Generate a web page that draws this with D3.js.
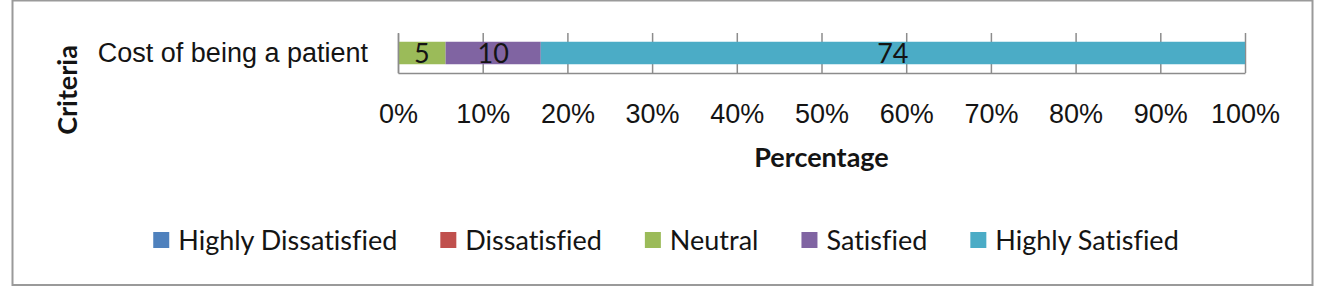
<!DOCTYPE html>
<html>
<head>
<meta charset="utf-8">
<script src="https://cdn.jsdelivr.net/npm/d3@7"></script>
<style>
  body { margin: 0; background: #fff; }
  svg { display: block; font-family: Lato, "Open Sans", sans-serif; font-variant-ligatures: none; }
</style>
</head>
<body>
<div id="chart"></div>
<script>
// Data
const categories = ["Cost of being a patient"];
const seriesNames = ["Highly Dissatisfied", "Dissatisfied", "Neutral", "Satisfied", "Highly Satisfied"];
const seriesValues = [0, 0, 5, 10, 74];
const tickValues = [0, 0.1, 0.2, 0.3, 0.4, 0.5, 0.6, 0.7, 0.8, 0.9, 1];

/* Set the dimensions of the graph */
const width = 1326, height = 287;
const plot = {left: 398, right: 1245, top: 33, bottom: 73};
const fontSize = 27;
const textColor = "#141414";

const svg = d3.select("#chart")
    .append("svg")
    .attr("width", width)
    .attr("height", height);

// outer chart frame
svg.append("rect")
    .attr("x", 12.5).attr("y", 0.5)
    .attr("width", 1300).attr("height", 284.5)
    .attr("fill", "#fff")
    .attr("stroke", "#9a9a9a")
    .attr("stroke-width", 2);

// Excel 2007 palette
const color = d3.scaleOrdinal()
    .domain(seriesNames)
    .range(["#4f81bd", "#c0504d", "#9bbb59", "#8064a2", "#4bacc6"]);

// one row per category, stacked to 100%
const rows = categories.map(c => {
    const row = {category: c};
    seriesNames.forEach((s, i) => row[s] = seriesValues[i]);
    return row;
});
const stacked = d3.stack()
    .keys(seriesNames)
    .offset(d3.stackOffsetExpand)(rows);

const xScale = d3.scaleLinear()
    .domain([0, 1])
    .range([plot.left, plot.right]);
const yScale = d3.scaleBand()
    .domain(categories)
    .range([plot.top, plot.bottom])
    .padding(0.28);

/* x axis with gridlines */
const xGroup = svg.append("g")
    .attr("transform", `translate(0,${plot.bottom})`)
    .call(d3.axisBottom(xScale)
        .tickValues(tickValues)
        .tickFormat(d3.format(".0%"))
        .tickSize(-(plot.bottom - plot.top))
        .tickSizeOuter(0)
        .tickPadding(31));
xGroup.selectAll("line").attr("stroke", "#8c8c8c").attr("stroke-width", 1.5);
xGroup.select(".domain").attr("stroke", "#8c8c8c").attr("stroke-width", 1.5);
xGroup.selectAll("text")
    .style("font-size", fontSize + "px")
    .attr("fill", textColor);

/* bars */
svg.append("g")
    .selectAll("g")
    .data(stacked)
    .join("g")
    .attr("fill", d => color(d.key))
    .selectAll("rect")
    .data(d => d)
    .join("rect")
    .attr("x", d => xScale(d[0]))
    .attr("y", d => yScale(d.data.category))
    .attr("width", d => xScale(d[1]) - xScale(d[0]))
    .attr("height", yScale.bandwidth());

/* y axis */
const yGroup = svg.append("g")
    .attr("transform", `translate(${plot.left},0)`)
    .call(d3.axisLeft(yScale).tickSize(0).tickPadding(30));
yGroup.select(".domain").attr("stroke", "#8c8c8c").attr("stroke-width", 1.5);
yGroup.selectAll("text")
    .style("font-size", fontSize + "px")
    .attr("fill", textColor);

/* value labels, skip empty segments */
const labels = [];
stacked.forEach((s, i) => s.forEach(d => {
    if (seriesValues[i] > 0) labels.push({d: d, v: seriesValues[i]});
}));
svg.append("g")
    .selectAll("text")
    .data(labels)
    .join("text")
    .attr("x", l => (xScale(l.d[0]) + xScale(l.d[1])) / 2)
    .attr("y", l => yScale(l.d.data.category) + yScale.bandwidth() / 2)
    .attr("dy", "0.36em")
    .attr("text-anchor", "middle")
    .style("font-size", fontSize + "px")
    .attr("fill", textColor)
    .text(l => l.v);

/* axis titles */
svg.append("text")
    .attr("x", (plot.left + plot.right) / 2)
    .attr("y", 167)
    .attr("text-anchor", "middle")
    .style("font-size", fontSize + "px")
    .style("font-weight", "bold")
    .attr("fill", textColor)
    .text("Percentage");

svg.append("text")
    .attr("transform", "translate(77,90) rotate(-90)")
    .attr("text-anchor", "middle")
    .style("font-size", fontSize + "px")
    .style("font-weight", "bold")
    .attr("fill", textColor)
    .text("Criteria");

/* legend, centered in the frame */
const legend = svg.append("g");
const items = legend.selectAll("g")
    .data(seriesNames)
    .join("g");
items.append("rect")
    .attr("y", -8)
    .attr("width", 16)
    .attr("height", 16)
    .attr("fill", d => color(d));
items.append("text")
    .attr("x", 25)
    .attr("dy", "0.36em")
    .style("font-size", fontSize + "px")
    .attr("fill", textColor)
    .text(d => d);

let cursor = 0;
items.each(function() {
    const w = d3.select(this).select("text").node().getComputedTextLength();
    d3.select(this).attr("transform", `translate(${cursor},0)`);
    cursor += 25 + w + 43;
});
const legendWidth = cursor - 43;
legend.attr("transform", `translate(${666 - legendWidth / 2},240)`);
</script>
</body>
</html>
